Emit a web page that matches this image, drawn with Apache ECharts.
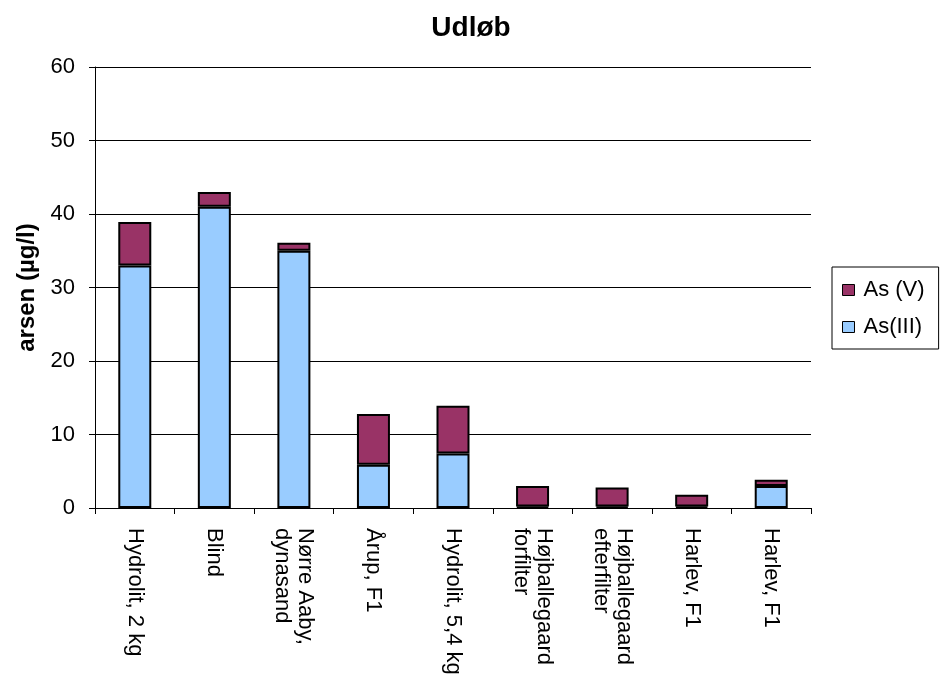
<!DOCTYPE html>
<html>
<head>
<meta charset="utf-8">
<script src="https://cdn.jsdelivr.net/npm/echarts@6/dist/echarts.min.js"></script>
<style>
  html, body { margin: 0; padding: 0; background: #fff; }
  #chart { width: 941px; height: 679px; }
</style>
</head>
<body>
<div id="chart"></div>
<script>
// kategorier (x-akse)
const categories = [
  "Hydrolit, 2 kg",
  "Blind",
  "Nørre Aaby,\ndynasand",
  "Årup, F1",
  "Hydrolit, 5,4 kg",
  "Højballegaard\nforfilter",
  "Højballegaard\nefterfilter",
  "Harlev, F1",
  "Harlev, F1"
];
// As(III) - nederste del af søjlen
const asIII = [33, 41, 35, 5.9, 7.4, 0.2, 0.2, 0.2, 3.0];
// As (V) - øverste del af søjlen
const asV = [5.9, 2.0, 1.1, 6.9, 6.5, 2.8, 2.6, 1.6, 0.85];

const chart = echarts.init(document.getElementById("chart"));

const font = "'Liberation Sans', Arial, sans-serif";

const option = {
  backgroundColor: "#fff",
  animation: false,
  title: {
    text: "Udløb",
    left: 466,
    top: 9,
    textAlign: "center",
    textStyle: { fontFamily: font, fontSize: 28, fontWeight: "bold", color: "#000" }
  },
  legend: {
    orient: "vertical",
    left: 832,
    top: 267,
    padding: [12, 14, 11, 10],
    itemGap: 15,
    itemWidth: 12,
    itemHeight: 11,
    borderColor: "#000",
    borderWidth: 1,
    icon: "rect",
    data: ["As (V)", "As(III)"],
    itemStyle: { borderColor: "#000", borderWidth: 1 },
    textStyle: { fontFamily: font, fontSize: 22, color: "#000", padding: [0, 0, 0, 4] }
  },
  grid: {
    left: 95,
    right: 130,
    top: 67,
    bottom: 171,
    containLabel: false
  },
  xAxis: {
    type: "category",
    data: categories,
    axisLine: { lineStyle: { color: "#000", width: 1 } },
    axisTick: { show: true, length: 6, lineStyle: { color: "#000" } },
    axisLabel: {
      rotate: -90,
      interval: 0,
      margin: 20,
      fontFamily: font,
      fontSize: 22,
      color: "#000",
      lineHeight: 23
    }
  },
  yAxis: {
    type: "value",
    min: 0,
    max: 60,
    interval: 10,
    name: "arsen (µg/l)",
    nameLocation: "middle",
    nameGap: 52,
    nameTextStyle: { fontFamily: font, fontSize: 24, fontWeight: "bold", color: "#000" },
    axisLine: { show: true, lineStyle: { color: "#000", width: 1 } },
    axisTick: { show: true, length: 6, lineStyle: { color: "#000" } },
    axisLabel: { fontFamily: font, fontSize: 22, color: "#000", margin: 20 },
    splitLine: { lineStyle: { color: "#000", width: 1 } }
  },
  series: [
    {
      name: "As(III)",
      type: "bar",
      stack: "arsen",
      barWidth: 33,
      data: asIII,
      itemStyle: { color: "#99ccff", borderColor: "#000", borderWidth: 2 }
    },
    {
      name: "As (V)",
      type: "bar",
      stack: "arsen",
      barWidth: 33,
      data: asV,
      itemStyle: { color: "#993366", borderColor: "#000", borderWidth: 2 }
    }
  ]
};

chart.setOption(option);
</script>
</body>
</html>
